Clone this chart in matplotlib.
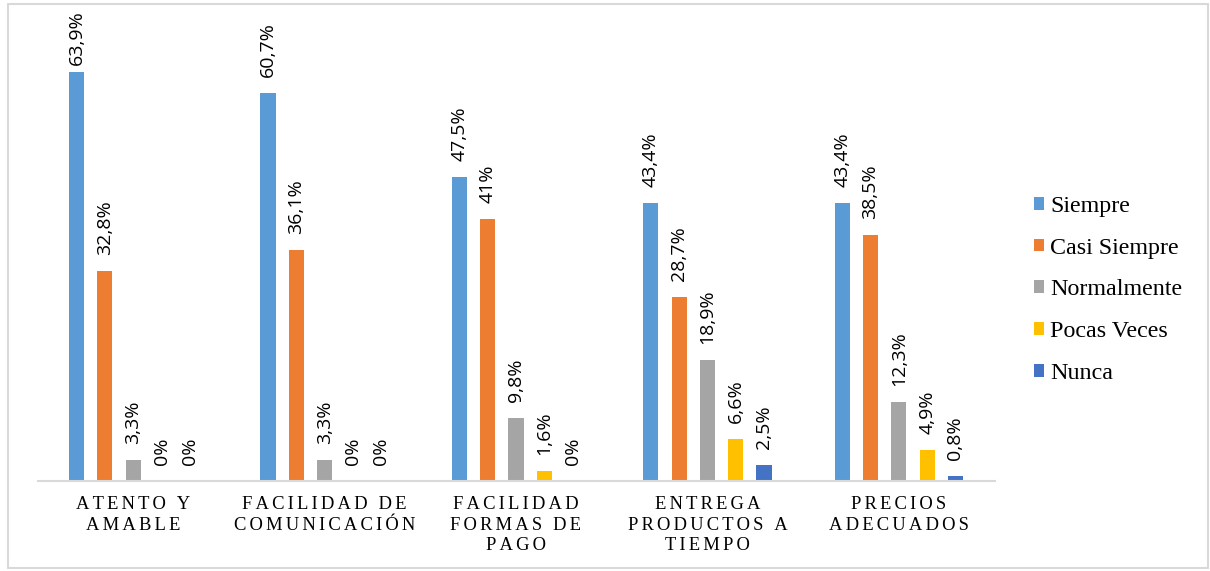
"""Frecuencia de respuestas por atributo del servicio."""

import matplotlib.pyplot as plt
import numpy as np
from matplotlib.patches import Rectangle

categorias = [
    "ATENTO Y\nAMABLE",
    "FACILIDAD DE\nCOMUNICACIÓN",
    "FACILIDAD\nFORMAS DE\nPAGO",
    "ENTREGA\nPRODUCTOS A\nTIEMPO",
    "PRECIOS\nADECUADOS",
]
series = ["Siempre", "Casi Siempre", "Normalmente", "Pocas Veces", "Nunca"]
siempre = [63.9, 60.7, 47.5, 43.4, 43.4]
casi_siempre = [32.8, 36.1, 41.0, 28.7, 38.5]
normalmente = [3.3, 3.3, 9.8, 18.9, 12.3]
pocas_veces = [0.0, 0.0, 1.6, 6.6, 4.9]
nunca = [0.0, 0.0, 0.0, 2.5, 0.8]
etiquetas = [
    ["63,9%", "60,7%", "47,5%", "43,4%", "43,4%"],
    ["32,8%", "36,1%", "41%", "28,7%", "38,5%"],
    ["3,3%", "3,3%", "9,8%", "18,9%", "12,3%"],
    ["0%", "0%", "1,6%", "6,6%", "4,9%"],
    ["0%", "0%", "0%", "2,5%", "0,8%"],
]

colores = ["#5B9BD5", "#ED7D31", "#A5A5A5", "#FFC000", "#4472C4"]
valores = [siempre, casi_siempre, normalmente, pocas_veces, nunca]

SEP = "\u2006"


def espaciar(texto):
    """Separa las letras para imitar el espaciado del rótulo."""
    lineas = []
    for linea in texto.split("\n"):
        palabras = [SEP.join(p) for p in linea.split(" ")]
        lineas.append((SEP + " " + SEP).join(palabras))
    return "\n".join(lineas)


fig = plt.figure(figsize=(12.1, 5.71), dpi=100)
ax = fig.add_axes([37.5 / 1210, 90 / 571, 957 / 1210, 448 / 571])

x = np.arange(len(categorias))
paso = 0.148
ancho = 0.079
for k, (nombre, vals, col) in enumerate(zip(series, valores, colores)):
    pos = x + (k - 2) * paso
    ax.bar(pos, vals, width=ancho, color=col, label=nombre, zorder=2)
    for xi, v, txt in zip(pos, vals, etiquetas[k]):
        y = min(v + 2.5, 65.0)
        ax.text(xi, y, txt, rotation=90, ha="center", va="bottom",
                fontsize=14, family="Open Sans", color="#000000")

ax.set_xlim(-0.5, 4.5)
ax.set_ylim(0, 70)
for lado in ("top", "right", "left"):
    ax.spines[lado].set_visible(False)
ax.spines["bottom"].set_color("#D9D9D9")
ax.spines["bottom"].set_linewidth(1.5)
ax.set_yticks([])
ax.set_xticks(x)
ax.set_xticklabels([espaciar(c) for c in categorias],
                   family=["Liberation Serif", "DejaVu Serif"],
                   fontsize=13.4, linespacing=1.25)
ax.tick_params(axis="x", length=0, pad=11)

leg = fig.legend(loc="upper left", bbox_to_anchor=(1012 / 1210, 1 - 174 / 571),
                 frameon=False, prop={"family": "Liberation Serif", "size": 17.3},
                 handlelength=0.45, handleheight=0.45, handletextpad=0.25,
                 labelspacing=0.87)

# marco exterior del gráfico
fig.patches.append(Rectangle((7.5 / 1210, 3.5 / 571), 1200 / 1210, 564 / 571,
                             transform=fig.transFigure, fill=False,
                             edgecolor="#D9D9D9", linewidth=1.5))

fig.savefig("out.png", dpi=100)
